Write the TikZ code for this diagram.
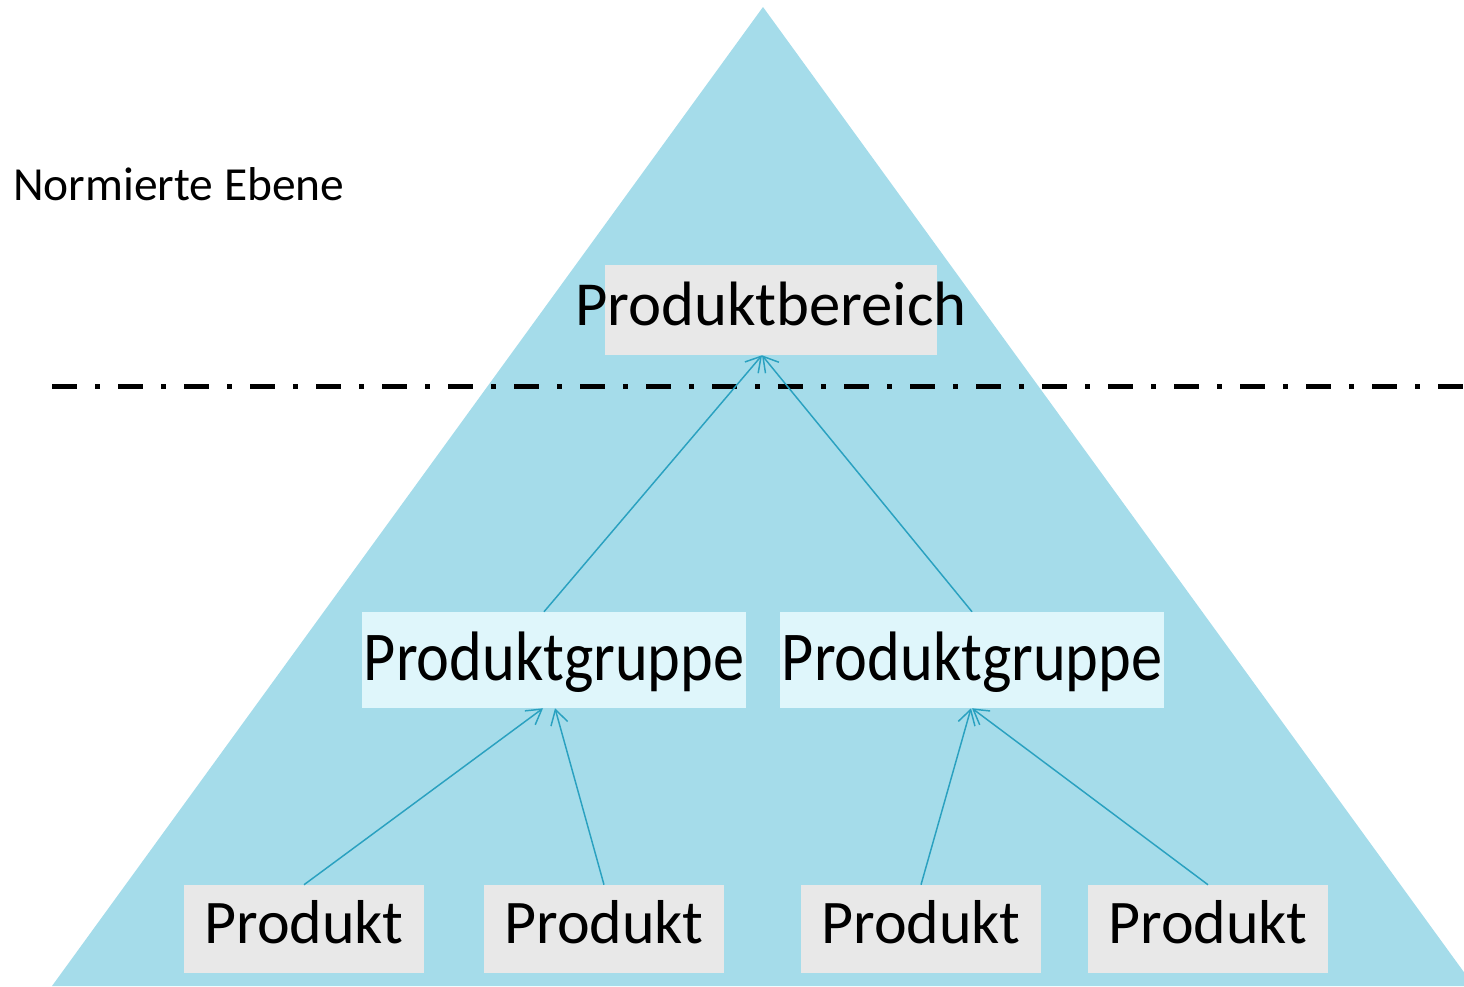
\documentclass[tikz,border=0pt]{standalone}
\usepackage{amsmath}
\usepackage{fontspec}
\setmainfont{Carlito}
\newfontfamily\grpfont[FakeStretch=0.89]{Carlito}
\usepackage{tikz}
\usetikzlibrary{arrows.meta}

\definecolor{pyramid}{RGB}{165,220,234}
\definecolor{boxgrey}{RGB}{232,232,232}
\definecolor{boxblue}{RGB}{223,246,251}
\definecolor{linkblue}{RGB}{42,161,192}

\tikzset{
  bereich/.style={fill=boxgrey, inner sep=0pt, minimum width=249pt, minimum height=67.5pt,
    text height=22.5pt, text depth=0pt, font=\fontsize{47}{50}\selectfont},
  gruppe/.style={fill=boxblue, inner sep=0pt, minimum width=288pt, minimum height=72pt,
    text height=30pt, text depth=0pt, font=\grpfont\fontsize{52.5}{55}\selectfont},
  produkt/.style={fill=boxgrey, inner sep=0pt, minimum width=180pt, minimum height=66pt,
    text height=21pt, text depth=0pt, font=\fontsize{46.5}{50}\selectfont},
  link/.style={draw=linkblue, line width=1.1pt, -{Straight Barb[length=11pt,width=13pt,line width=1.1pt]}}
}

\begin{document}
\begin{tikzpicture}[x=0.75pt,y=0.75pt,yscale=-1,xscale=1]
        \useasboundingbox (0,0) rectangle (1464,986);
        \clip (0,0) rectangle (1464,986);
        % pyramid
        \fill [pyramid] (763,7) -- (52,986) -- (1474,986) -- cycle ;
        % level separator
        \draw [line width=3.75pt, dash pattern=on 18.75pt off 13.5pt on 3.75pt off 13.5pt] (52,386) -- (1464,386) ;
        \node [anchor=base west, inner sep=0pt, font=\fontsize{35.6}{38}\selectfont] (ebene) at (13,200) {Normierte Ebene};
        % boxes
        \node [bereich] (pb) at (771,310) {\makebox[249pt]{Produktbereich}};
        \node [gruppe] (pgl) at (554,660) {Produktgruppe};
        \node [gruppe] (pgr) at (972,660) {Produktgruppe};
        \node [produkt] (p1) at (304,929) {Produkt};
        \node [produkt] (p2) at (604,929) {Produkt};
        \node [produkt] (p3) at (921,929) {Produkt};
        \node [produkt] (p4) at (1208,929) {Produkt};
        % links
        \draw [link] ([xshift=-7.5pt]pgl.north) -- ([xshift=-6.75pt]pb.south) ;
        \draw [link] (pgr.north) -- ([xshift=-6.75pt]pb.south) ;
        \draw [link] (p1.north) -- ([xshift=-8.25pt]pgl.south) ;
        \draw [link] (p2.north) -- ([xshift=0.75pt]pgl.south) ;
        \draw [link] (p3.north) -- ([xshift=-0.75pt]pgr.south) ;
        \draw [link] (p4.north) -- (pgr.south) ;
    \end{tikzpicture}
\end{document}
